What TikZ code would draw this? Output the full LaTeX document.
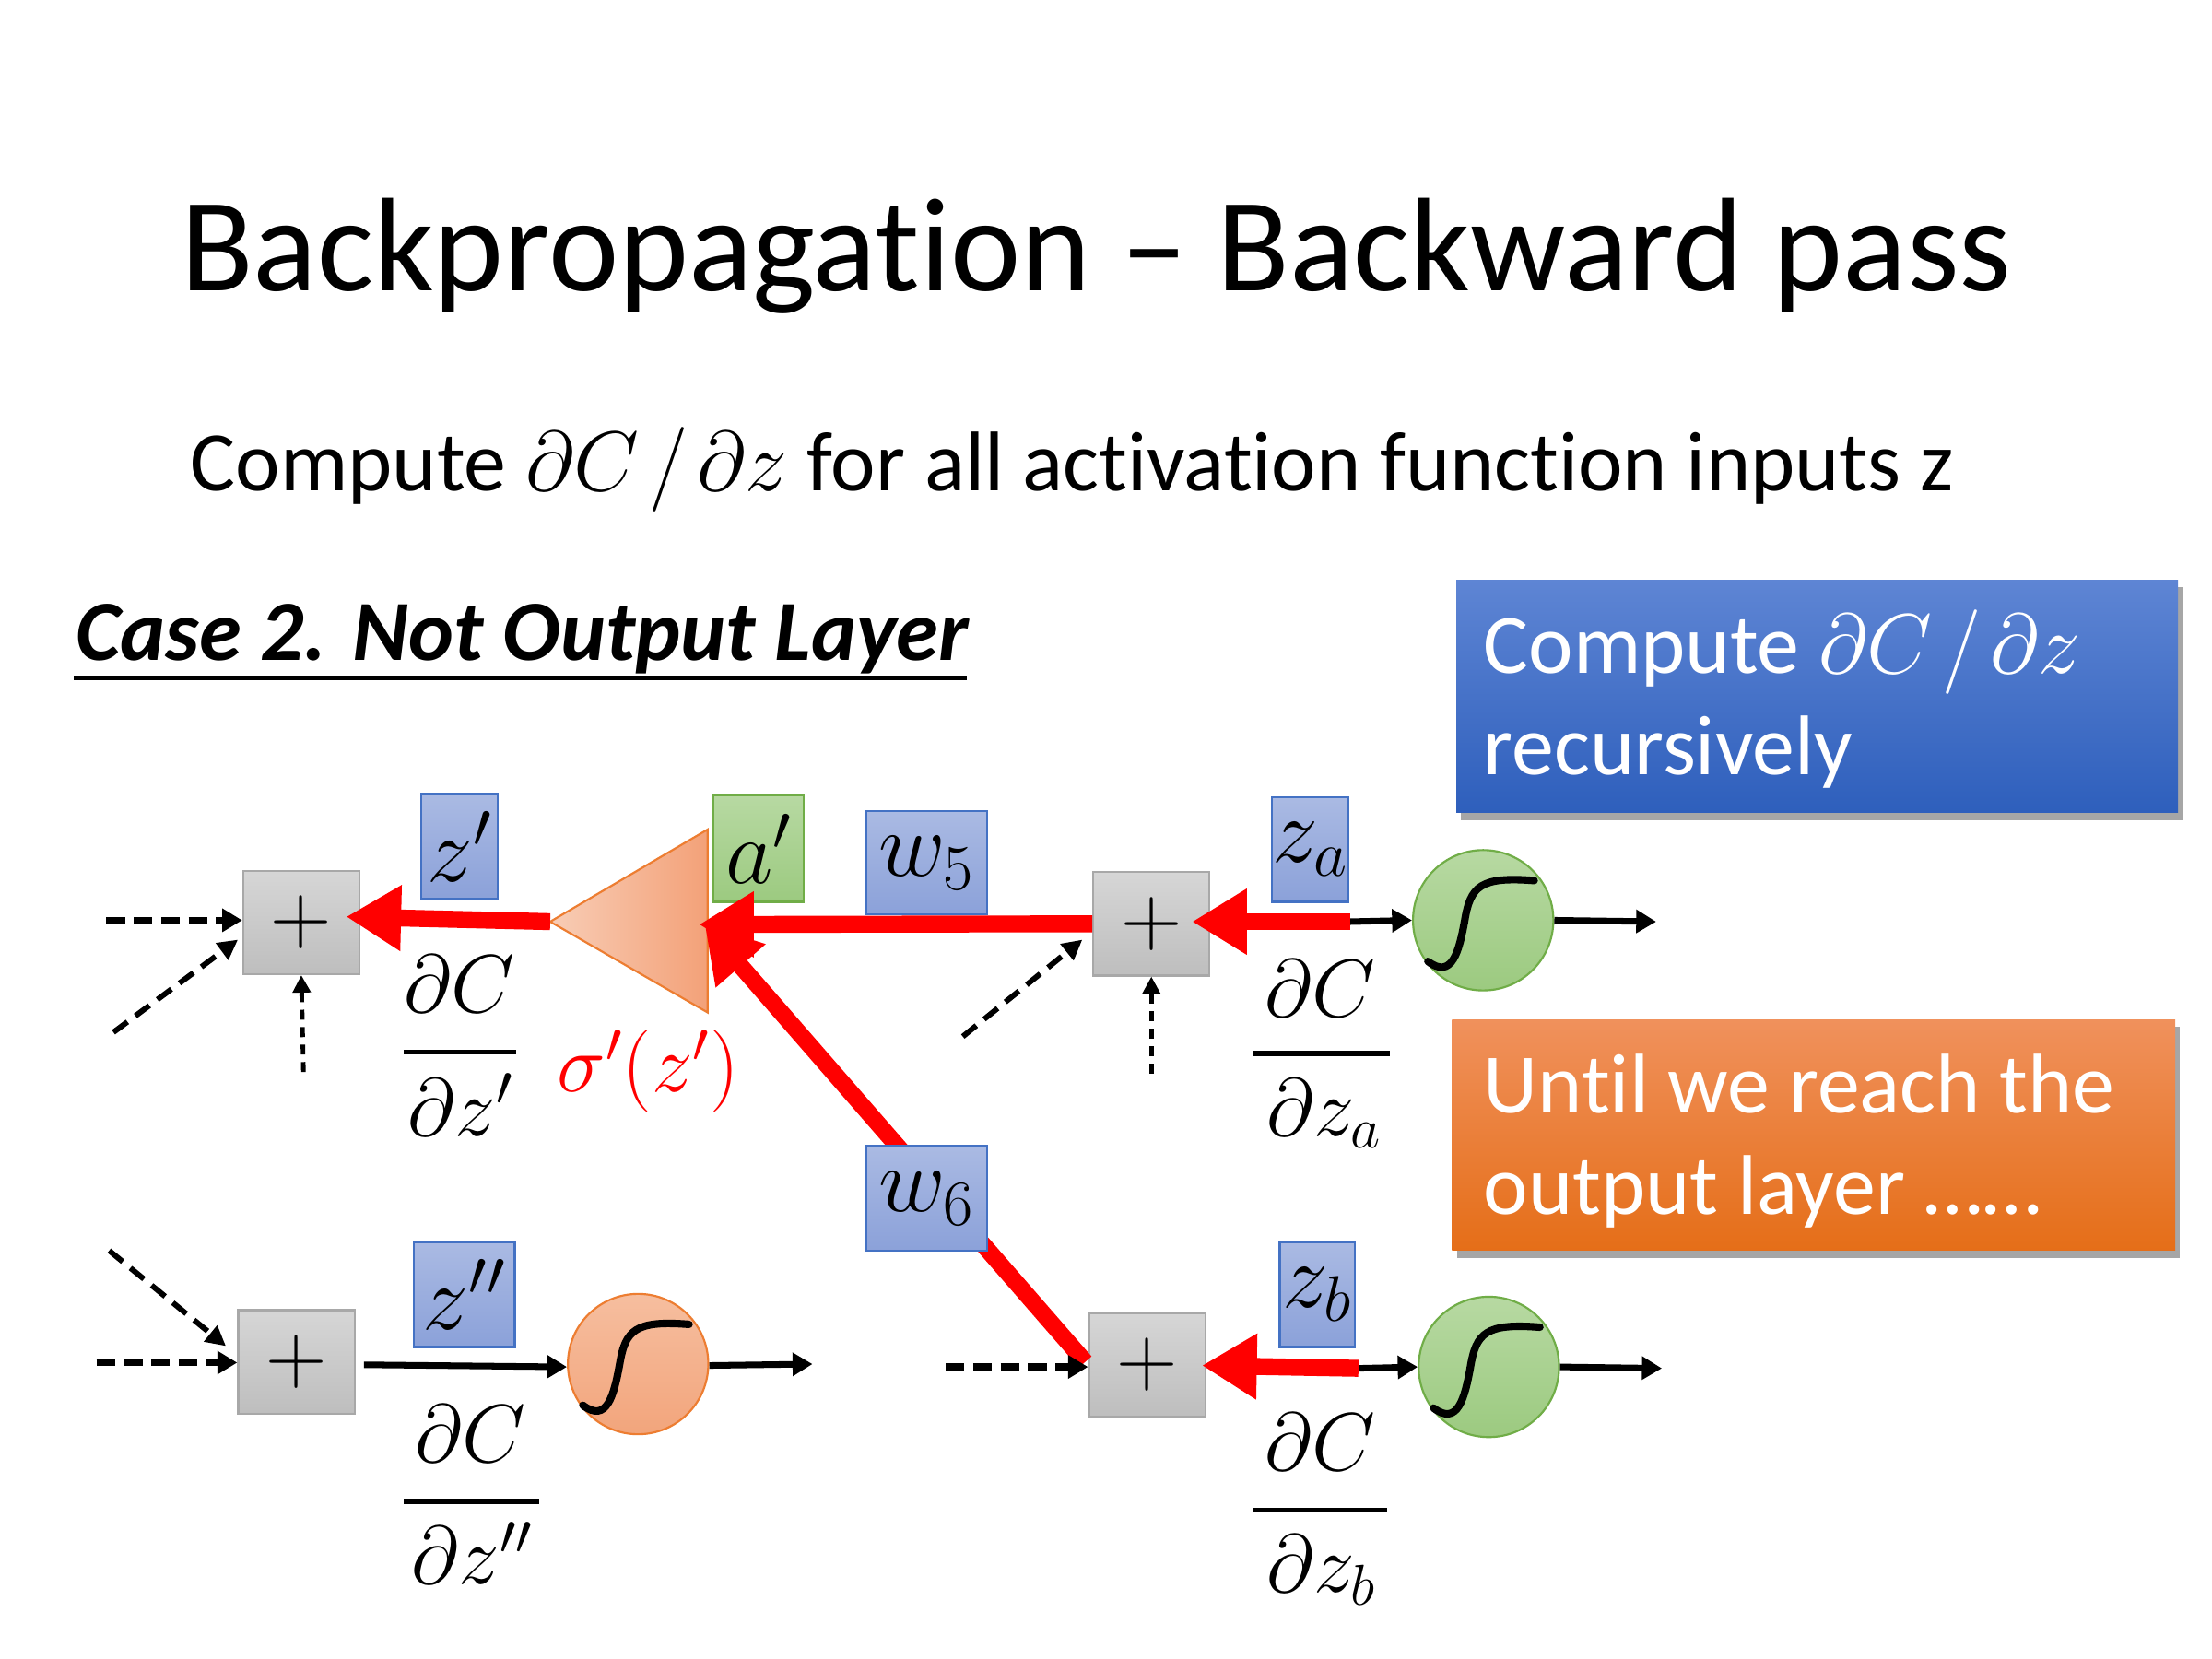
\RequirePackage{fix-cm}
\documentclass[tikz,border=0pt]{standalone}
\usepackage{fontspec}
\setmainfont{Carlito}[Ligatures=NoCommon]
\usetikzlibrary{arrows.meta,shadows,calc}
\definecolor{lblTop}{HTML}{AABAE3}
\definecolor{lblBot}{HTML}{8BA1D9}
\definecolor{lblEdge}{HTML}{4472C4}
\definecolor{grnTop}{HTML}{B7D9A2}
\definecolor{grnBot}{HTML}{9CCA80}
\definecolor{grnEdge}{HTML}{70AD47}
\definecolor{gryTop}{HTML}{D6D6D6}
\definecolor{gryBot}{HTML}{BEBEBE}
\definecolor{gryEdge}{HTML}{A8A8A8}
\definecolor{orgTop}{HTML}{F6BE9F}
\definecolor{orgBot}{HTML}{F2A57C}
\definecolor{orgEdge}{HTML}{ED7D31}
\definecolor{triL}{HTML}{F8CDB6}
\definecolor{triR}{HTML}{F3A178}
\definecolor{cbTop}{HTML}{5E85D4}
\definecolor{cbBot}{HTML}{2E5FBC}
\definecolor{coTop}{HTML}{F0915C}
\definecolor{coBot}{HTML}{E56E18}
\definecolor{pureRed}{HTML}{FF0000}
\begin{document}
\begin{tikzpicture}[x=0.02cm,y=-0.02cm,
  plusbox/.style={rectangle, draw=gryEdge, line width=0.8pt, top color=gryTop, bottom color=gryBot,
    minimum width=82*0.02cm, minimum height=73*0.02cm, inner sep=0pt, font=\fontsize{34}{34}\selectfont},
  lblbox/.style={rectangle, draw=lblEdge, line width=0.8pt, top color=lblTop, bottom color=lblBot,
    inner sep=0pt, font=\fontsize{37}{40}\selectfont},
  grnbox/.style={rectangle, draw=grnEdge, line width=0.8pt, top color=grnTop, bottom color=grnBot,
    inner sep=0pt, font=\fontsize{37}{40}\selectfont},
  neurong/.style={circle, draw=grnEdge, line width=0.8pt, top color=grnTop, bottom color=grnBot,
    minimum size=99*0.02cm, inner sep=0pt},
  neurono/.style={circle, draw=orgEdge, line width=0.8pt, top color=orgTop, bottom color=orgBot,
    minimum size=99*0.02cm, inner sep=0pt},
  sigline/.style={line width=3pt, line cap=round},
  redarrow/.style={draw=pureRed, line width=6.8pt, -{Triangle[length=22pt,width=25pt]}},
  blkarrow/.style={line width=2.6pt, -{Triangle[length=8pt,width=9pt]}},
  dasharrow/.style={line width=2.8pt, dash pattern=on 7.5pt off 3.5pt, -{Triangle[length=8pt,width=9pt]}},
  diagarrow/.style={line width=2.2pt, dash pattern=on 7pt off 4pt, -{Triangle[length=8pt,width=8pt]}},
  dotarrow/.style={line width=1.8pt, dash pattern=on 4pt off 3pt, -{Triangle[length=7pt,width=7pt]}},
  fracbar/.style={line width=2.1pt},
  fractext/.style={inner sep=0pt, anchor=base, font=\fontsize{33}{38}\selectfont},
  callout/.style={rectangle, inner sep=0pt, drop shadow={shadow xshift=2pt, shadow yshift=-3pt, opacity=0.35, fill=black}},
  callouttext/.style={inner sep=0pt, anchor=base west, text=white, font=\fontsize{34}{40}\selectfont}
]
\useasboundingbox (0,0) rectangle (1560,1170);
\fill[white] (0,0) rectangle (1560,1170);

% ---------- titles ----------
\node[anchor=base, inner sep=0pt, font=\fontsize{53.5}{60}\selectfont] (title) at (773,205) {Backpropagation – Backward pass};
\node[anchor=base west, inner sep=0pt, font=\fontsize{34}{40}\selectfont] (sub) at (134,346)
  {Compute $\partial C\mkern2mu/\mkern2mu\partial z$ for all activation function inputs z};
\node[anchor=base west, inner sep=0pt, font=\fontsize{34.4}{38}\selectfont\bfseries\itshape] (case) at (53,466) {Case 2. Not Output Layer};
\draw[line width=1.6pt] ($(case.base west)+(-1,12)$) -- ($(case.base east)+(-2,12)$);

% ---------- callouts ----------
\node[callout, top color=cbTop, bottom color=cbBot, minimum width=509*0.02cm, minimum height=164*0.02cm] (bluebox) at (1281.5,491) {};
\node[callouttext] (bluet1) at (1046,474.5) {Compute $\partial C\mkern2mu/\mkern2mu\partial z$};
\node[callouttext] (bluet2) at (1046,546) {recursively};
\node[callout, top color=coTop, bottom color=coBot, minimum width=510*0.02cm, minimum height=163*0.02cm] (orgbox) at (1279,800.5) {};
\node[callouttext] (orgt1) at (1046,785) {Until we reach the};
\node[callouttext] (orgt2) at (1046,856.5) {output layer ……};

% ---------- triangle (activation derivative) ----------
\coordinate (triapex) at (388,650);
\coordinate (triright) at (499,650);
\shade[left color=triL, right color=triR, draw=orgEdge, line width=0.8pt] (triapex) -- (499,585) -- (499,714) -- cycle;

% ---------- nodes ----------
\node[plusbox] (plusA) at (812,651.5) {$+$};
\node[plusbox] (plusB) at (809,962.5) {$+$};
\coordinate (diagstart) at ($(plusB.west)+(-2,-2)$);
\draw[redarrow] (diagstart) -- ($(triright)+(-2,2)$);

\node[plusbox] (plus1) at (212.5,650.5) {$+$};
\node[plusbox] (plusZ) at (209,960.5) {$+$};

\node[lblbox, minimum width=54*0.02cm, minimum height=74*0.02cm] (lz1) at (324,597) {$z'$};
\node[grnbox, minimum width=64*0.02cm, minimum height=75*0.02cm] (la1) at (535,598.5) {$a'$};
\node[lblbox, minimum width=85*0.02cm, minimum height=73*0.02cm] (lw5) at (653.5,608.5) {$w_5$};
\node[lblbox, minimum width=85*0.02cm, minimum height=74*0.02cm] (lw6) at (653.5,845) {$w_6$};
\node[lblbox, minimum width=71*0.02cm, minimum height=74*0.02cm] (lz2) at (327.5,913) {$z''$};
\node[lblbox, minimum width=53*0.02cm, minimum height=74*0.02cm] (lza) at (924,599) {$z_a$};
\node[lblbox, minimum width=53*0.02cm, minimum height=74*0.02cm] (lzb) at (929,913) {$z_b$};

\node[neurong] (na) at (1046,649) {};
\node[neurong] (nb) at (1050,964) {};
\node[neurono] (nz) at (450,962) {};
\foreach \n in {na,nb,nz}{
  \begin{scope}[shift={(\n.center)}]
    \draw[sigline] (-39,29) .. controls (-22,42) and (-17,22) .. (-13,0) .. controls (-9,-24) and (-2,-31) .. (36,-28);
  \end{scope}
}

% ---------- forward (black) connectors ----------
\coordinate (ta) at (952,650);
\coordinate (tb) at (958,965);
\coordinate (outa) at (1168,650);
\coordinate (outb) at (1172,965);
\coordinate (outz) at (573,962);
\draw[blkarrow] (ta) -- (na.west);
\draw[blkarrow] (na.east) -- (outa);
\draw[blkarrow] (tb) -- (nb.west);
\draw[blkarrow] (nb.east) -- (outb);
\draw[blkarrow] ($(plusZ.east)+(6,2)$) -- ($(nz.west)+(0,2)$);
\draw[blkarrow] ($(nz.east)+(0,1)$) -- (outz);

% ---------- other inputs ----------
\coordinate (in1h) at (75,649);
\coordinate (in1d) at (80,728);
\coordinate (in1v) at (214,756);
\coordinate (inAd) at (679,731);
\coordinate (inAv) at (812,757);
\coordinate (inZh) at (68,961);
\coordinate (inZd) at (77,882);
\coordinate (inBh) at (667,964);
\draw[dasharrow] (in1h) -- (plus1.west |- in1h);
\draw[diagarrow] (in1d) -- ($(plus1.south west)+(-3,-25)$);
\draw[dotarrow] (in1v) -- (plus1.south);
\draw[diagarrow] (inAd) -- ($(plusA.south west)+(-7,-26)$);
\draw[dotarrow] (inAv) -- (plusA.south);
\draw[dasharrow] (inZh) -- (plusZ.west |- inZh);
\draw[diagarrow] (inZd) -- ($(plusZ.north west)+(-8,26)$);
\draw[dasharrow] (inBh) -- (plusB.west |- inBh);

% ---------- backward (red) connectors ----------
\draw[redarrow] (ta) -- ($(plusA.east)+(-13,-1.5)$);
\draw[redarrow] (tb) -- ($(plusB.east)+(-3,0.5)$);
\draw[redarrow] (plusA.west) -- ($(triright)+(-6,2)$);
\draw[redarrow] (triapex) -- ($(plus1.east)+(-10,-4)$);

% ---------- derivative labels ----------
\node[fractext] (n1) at (324,714) {$\partial C$};
\draw[fracbar] (285,742) -- (364,742);
\node[fractext] (d1) at (325,801) {$\partial z'$};
\node[fractext, text=pureRed] (sig) at (457,770) {$\sigma'(z')$};

\node[fractext] (na1) at (931,717) {$\partial C$};
\draw[fracbar] (884,743) -- (980,743);
\node[fractext] (da1) at (934,801) {$\partial z_a$};

\node[fractext] (nz1) at (332,1031) {$\partial C$};
\draw[fracbar] (285,1059) -- (380,1059);
\node[fractext] (dz1) at (333,1117) {$\partial z''$};

\node[fractext] (nb1) at (931,1037) {$\partial C$};
\draw[fracbar] (884,1065) -- (978,1065);
\node[fractext] (db1) at (932,1123) {$\partial z_b$};
\end{tikzpicture}
\end{document}
